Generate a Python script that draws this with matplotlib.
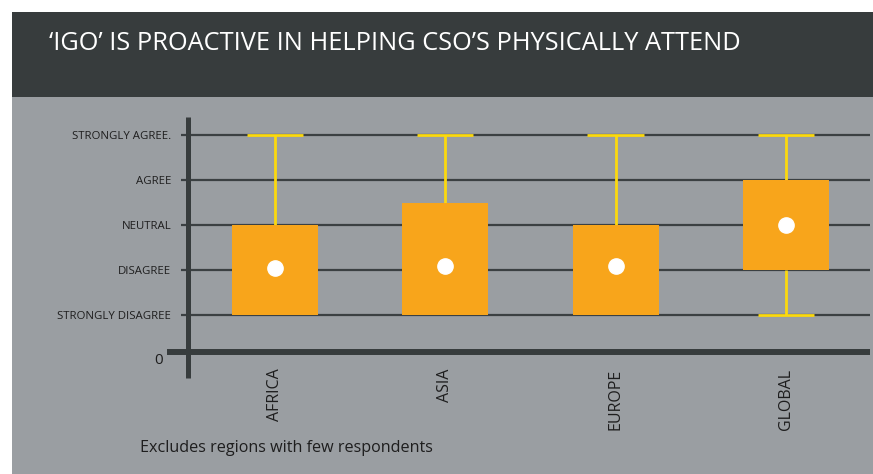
import matplotlib
matplotlib.use('Agg')
import matplotlib.pyplot as plt
from matplotlib.patches import Rectangle
from matplotlib.lines import Line2D
import numpy as np

# ── data ────────────────────────────────────────────────────────────────
regions = ['AFRICA', 'ASIA', 'EUROPE', 'GLOBAL']
box_low = [1, 1, 1, 2]
box_high = [3, 3.5, 3, 4]
medians = [2.05, 2.1, 2.1, 3]
whisker_low = [1, 1, 1, 1]
whisker_high = [5, 5, 5, 5]
levels = [1, 2, 3, 4, 5]
level_labels = ['STRONGLY DISAGREE', 'DISAGREE', 'NEUTRAL', 'AGREE', 'STRONGLY AGREE.']

W, H = 873, 474
dark = '#373c3d'
panel = '#9a9ea2'
orange = '#f8a51b'
yellow = '#fbd90f'
font = 'Open Sans'

fig = plt.figure(figsize=(W / 100, H / 100), dpi=100)
fig.patch.set_facecolor('white')

# background bands
fig.add_artist(Rectangle((12 / W, 1 - 97 / H), 1, 85 / H, transform=fig.transFigure,
                         facecolor=dark, edgecolor='none', zorder=0))
fig.add_artist(Rectangle((12 / W, 0), 1, 1 - 97 / H, transform=fig.transFigure,
                         facecolor=panel, edgecolor='none', zorder=0))
fig.text(49 / W, 1 - 43 / H, '\u2018IGO\u2019 IS PROACTIVE IN HELPING CSO\u2019S PHYSICALLY ATTEND',
         color='white', fontsize=18.3, family=font, va='center', ha='left')
fig.text(140 / W, 1 - 448 / H, 'Excludes regions with few respondents',
         color='#1e1e1e', fontsize=11.6, family=font, va='center', ha='left')

ax_left, ax_right, ax_top, ax_bot = 188, 870, 117, 352
ax = fig.add_axes([ax_left / W, 1 - ax_bot / H, (ax_right - ax_left) / W, (ax_bot - ax_top) / H])
ax.set_facecolor('none')
for s in ax.spines.values():
    s.set_visible(False)

x = np.arange(len(regions))
ax.set_xlim(-0.511, 3.494)
ax.set_ylim(0.18, 5.4)

# grid lines
for lv in levels:
    ax.axhline(lv, color='#3b4042', linewidth=1.6, zorder=1)

# boxes, whiskers, medians
heights = [h - l for h, l in zip(box_high, box_low)]
ax.bar(x, heights, bottom=box_low, width=0.505, color=orange, zorder=3)
ax.vlines(x, box_high, whisker_high, color=yellow, linewidth=2, zorder=2)
ax.vlines(x, whisker_low, box_low, color=yellow, linewidth=2, zorder=2)
ax.hlines(whisker_high, x - 0.165, x + 0.165, color=yellow, linewidth=2, zorder=2)
for xi, lo, bl in zip(x, whisker_low, box_low):
    if lo < bl:
        ax.hlines(lo, xi - 0.165, xi + 0.165, color=yellow, linewidth=2, zorder=2)
ax.plot(x, medians, 'o', color='white', markersize=11, zorder=4)

# axes lines
ax.add_line(Line2D([0, 0], [-26 / 235, 1], transform=ax.transAxes, color=dark,
                   linewidth=3.6, clip_on=False, solid_capstyle='butt', zorder=5))
ax.add_line(Line2D([-21 / 682, 1], [0, 0], transform=ax.transAxes, color=dark,
                   linewidth=4.3, clip_on=False, solid_capstyle='butt', zorder=5))
ax.text(-25 / 682, -0.005, '0', transform=ax.transAxes, ha='right', va='top',
        fontsize=11, family=font, color='#1e1e1e')

ax.set_yticks(levels)
ax.set_yticklabels(level_labels, family=font, fontsize=8.2, color='#1e1e1e')
ax.tick_params(axis='y', length=5, width=1.6, color='#3b4042', pad=7)
ax.set_xticks(x)
ax.set_xticklabels(regions, rotation=90, family=font, fontsize=11.5, color='#1e1e1e')
ax.tick_params(axis='x', length=0, pad=12)

plt.savefig('out.png', dpi=100)
